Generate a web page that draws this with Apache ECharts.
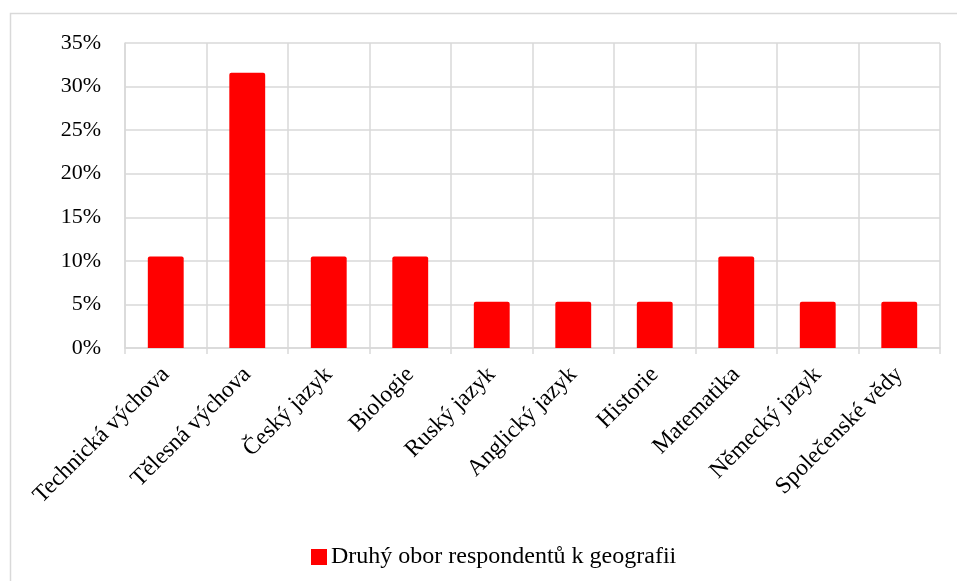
<!DOCTYPE html>
<html>
<head>
<meta charset="utf-8">
<script src="https://cdn.jsdelivr.net/npm/echarts@6/dist/echarts.min.js"></script>
<style>
  html, body { margin: 0; padding: 0; background: #fff; }
  #chart { width: 957px; height: 581px; }
</style>
</head>
<body>
<div id="chart"></div>
<script>
// Second field of study of geography respondents (share of respondents)
const categories = [
  'Technická výchova', 'Tělesná výchova', 'Český jazyk', 'Biologie', 'Ruský jazyk',
  'Anglický jazyk', 'Historie', 'Matematika', 'Německý jazyk', 'Společenské vědy'
];
const shares = [10.5, 31.6, 10.5, 10.5, 5.3, 5.3, 5.3, 10.5, 5.3, 5.3];
const seriesName = 'Druhý obor respondentů k geografii';
const yTicks = [0, 5, 10, 15, 20, 25, 30, 35];

const font = 'Liberation Serif, Times New Roman, serif';
const gridColor = '#d9d9d9';

const chart = echarts.init(document.getElementById('chart'), null, { renderer: 'canvas' });
chart.setOption({
  animation: false,
  backgroundColor: '#fff',
  textStyle: { fontFamily: font },
  graphic: [{
    type: 'rect',
    shape: { x: 10.5, y: 13.5, width: 960, height: 600 },
    style: { fill: 'none', stroke: gridColor, lineWidth: 1.5 },
    silent: true
  }],
  grid: { left: 125, right: 17, top: 43, bottom: 233, containLabel: false },
  legend: {
    data: [seriesName],
    left: 306,
    top: 540,
    icon: 'rect',
    itemWidth: 16,
    itemHeight: 16,
    itemGap: 4,
    textStyle: { fontFamily: font, fontSize: 24, color: '#000', padding: [0, 0, 0, -1] }
  },
  xAxis: {
    type: 'category',
    data: categories,
    boundaryGap: true,
    axisLine: { show: true, lineStyle: { color: gridColor, width: 1.5 } },
    axisTick: { show: true, length: 6, lineStyle: { color: gridColor, width: 1.5 } },
    splitLine: { show: true, lineStyle: { color: gridColor, width: 1.5 } },
    axisLabel: {
      rotate: 45,
      interval: 0,
      margin: 23,
      fontFamily: font,
      fontSize: 23.5,
      color: '#000'
    }
  },
  yAxis: {
    type: 'value',
    min: 0,
    max: 35,
    interval: 5,
    axisLine: { show: true, lineStyle: { color: gridColor, width: 1.5 } },
    axisTick: { show: false },
    splitLine: { show: true, lineStyle: { color: gridColor, width: 1.5 } },
    axisLabel: {
      margin: 24,
      fontFamily: font,
      fontSize: 22,
      color: '#000',
      formatter: v => yTicks.includes(v) ? v + '%' : ''
    }
  },
  series: [{
    name: seriesName,
    type: 'bar',
    data: shares,
    barWidth: '44%',
    itemStyle: { color: '#ff0000', borderRadius: [2, 2, 0, 0] }
  }]
});
</script>
</body>
</html>
